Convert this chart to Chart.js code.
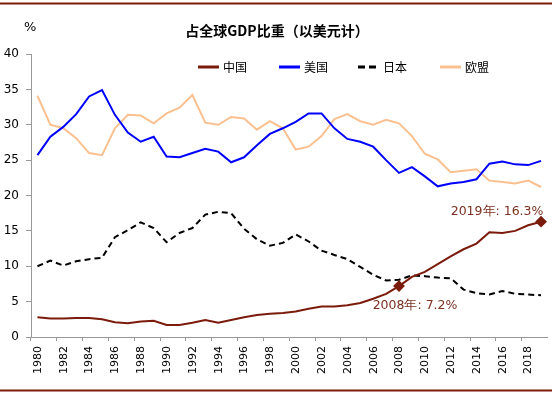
<!DOCTYPE html>
<html>
<head>
<meta charset="utf-8">
<script src="https://cdn.jsdelivr.net/npm/chart.js@4/dist/chart.umd.min.js"></script>
<style>
  html, body { margin: 0; padding: 0; background: #fff; }
  canvas { display: block; }
</style>
</head>
<body>
<canvas id="gdpChart" width="554" height="394"></canvas>
<script>
// Share of world GDP (USD), %
const years = [];
for (let y = 1980; y <= 2019; y++) years.push(String(y));

const china = [2.8, 2.6, 2.6, 2.7, 2.7, 2.5, 2.1, 1.95, 2.2, 2.3,
               1.7, 1.7, 2.0, 2.4, 2.0, 2.4, 2.8, 3.1, 3.3, 3.4,
               3.6, 4.0, 4.3, 4.3, 4.5, 4.8, 5.4, 6.1, 7.2, 8.5,
               9.2, 10.3, 11.4, 12.4, 13.2, 14.8, 14.7, 15.0, 15.8, 16.3];
const usa = [25.7, 28.3, 29.7, 31.5, 34.0, 34.9, 31.4, 28.9, 27.6, 28.3,
             25.5, 25.4, 26.0, 26.6, 26.2, 24.7, 25.4, 27.1, 28.7, 29.5,
             30.4, 31.6, 31.6, 29.5, 28.0, 27.6, 26.9, 25.0, 23.2, 24.0,
             22.7, 21.3, 21.7, 21.9, 22.3, 24.5, 24.8, 24.4, 24.3, 24.9];
const japan = [10.0, 10.8, 10.1, 10.7, 11.0, 11.2, 14.1, 15.1, 16.2, 15.4,
               13.4, 14.7, 15.4, 17.3, 17.7, 17.5, 15.3, 13.8, 12.9, 13.3,
               14.5, 13.5, 12.2, 11.6, 11.0, 9.9, 8.8, 8.0, 8.1, 8.7,
               8.6, 8.4, 8.3, 6.7, 6.2, 6.0, 6.5, 6.1, 6.0, 5.9];
const eu = [34.1, 30.0, 29.5, 28.1, 26.0, 25.7, 29.5, 31.4, 31.3, 30.2,
            31.6, 32.4, 34.2, 30.3, 30.0, 31.1, 30.9, 29.3, 30.5, 29.5,
            26.5, 26.9, 28.4, 30.8, 31.5, 30.5, 30.0, 30.7, 30.2, 28.4,
            25.9, 25.1, 23.3, 23.5, 23.7, 22.1, 21.9, 21.7, 22.1, 21.2];

const yTicks = [0, 5, 10, 15, 20, 25, 30, 35, 40];
const markedIdx = [28, 39];   // 2008, 2019
const markedText = ['2008年: 7.2%', '2019年: 16.3%'];

const RED = '#7B1B0C';
const TEXT_RED = '#7B3020';

// title, borders, legend, vertical year labels and callouts
const decor = {
  id: 'decor',
  beforeDraw(chart) {
    const c = chart.ctx;
    c.save();
    c.fillStyle = '#fff';
    c.fillRect(0, 0, chart.width, chart.height);
    c.restore();
  },
  afterDraw(chart) {
    const c = chart.ctx;
    c.save();
    // frame lines
    c.strokeStyle = RED;
    c.lineWidth = 2;
    c.beginPath();
    c.moveTo(0, 3.5); c.lineTo(552, 3.5);
    c.moveTo(0, 390.5); c.lineTo(552, 390.5);
    c.stroke();

    c.fillStyle = '#000';
    c.textBaseline = 'middle';
    c.font = 'bold 14px "Noto Sans CJK SC"';
    c.textAlign = 'center';
    c.fillText('占全球GDP比重（以美元计）', 277, 31);
    c.font = '13px "DejaVu Sans"';
    c.textAlign = 'left';
    c.fillText('%', 24, 28);

    // year labels, every other category, rotated
    const xs = chart.scales.x;
    c.font = '11px "DejaVu Sans"';
    c.textAlign = 'right';
    years.forEach((lab, i) => {
      if (i % 2) return;
      c.save();
      c.translate(xs.getPixelForValue(i) + 0.5, xs.top + 9);
      c.rotate(-Math.PI / 2);
      c.fillText(lab, 0, 0);
      c.restore();
    });

    // legend
    const legX = [198, 279, 358, 440];
    c.font = '12px "Noto Sans CJK SC"';
    c.textAlign = 'left';
    chart.data.datasets.forEach((ds, i) => {
      const x = legX[i], y = 67;
      c.strokeStyle = ds.borderColor;
      c.lineWidth = 3;
      c.setLineDash(ds.borderDash ? [7, 4] : []);
      c.beginPath();
      c.moveTo(x, y); c.lineTo(x + 21, y);
      c.stroke();
      c.setLineDash([]);
      c.fillStyle = '#000';
      c.fillText(ds.label, x + 25, y);
    });

    // callouts for 2008 / 2019
    const pts = chart.getDatasetMeta(0).data;
    const off = [[16, 20], [-44, -10]];
    c.fillStyle = TEXT_RED;
    c.textAlign = 'center';
    c.font = '12.5px "DejaVu Sans"';
    markedIdx.forEach((idx, k) => {
      const p = pts[idx];
      c.fillText(markedText[k], p.x + off[k][0], p.y + off[k][1]);
    });
    c.restore();
  }
};

new Chart(document.getElementById('gdpChart'), {
  type: 'line',
  data: {
    labels: years,
    datasets: [
      {
        label: '中国', data: china, borderColor: RED, backgroundColor: RED, borderWidth: 2,
        pointStyle: 'rectRot',
        pointRadius: ctx => markedIdx.includes(ctx.dataIndex) ? 4.5 : 0,
        pointBackgroundColor: RED, pointBorderColor: RED
      },
      { label: '美国', data: usa, borderColor: '#0000FF', borderWidth: 2, pointRadius: 0 },
      { label: '日本', data: japan, borderColor: '#000000', borderWidth: 2, borderDash: [6, 4], pointRadius: 0 },
      { label: '欧盟', data: eu, borderColor: '#FAC090', borderWidth: 2, pointRadius: 0 }
    ]
  },
  options: {
    responsive: false,
    devicePixelRatio: 1,
    animation: false,
    layout: { padding: { top: 54, right: 3, left: 0, bottom: 0 } },
    plugins: { legend: { display: false }, title: { display: false }, tooltip: { enabled: false } },
    scales: {
      x: {
        type: 'category',
        offset: true,
        afterFit: s => { s.height = 57; s.paddingLeft = 0; s.paddingRight = 0; },
        grid: {
          offset: true, drawOnChartArea: false, tickLength: 4,
          color: ctx => ctx.index % 2 === 0 ? '#999' : 'rgba(0,0,0,0)'
        },
        border: { color: '#999' },
        ticks: { display: false, autoSkip: false }
      },
      y: {
        min: 0, max: 40,
        afterFit: s => { s.width = 31; },
        afterBuildTicks: s => { s.ticks = yTicks.map(v => ({ value: v })); },
        grid: { drawOnChartArea: false, tickLength: 5, color: '#999' },
        border: { color: '#999' },
        ticks: { padding: 7, color: '#000', font: { family: 'DejaVu Sans', size: 12 } }
      }
    }
  },
  plugins: [decor]
});
</script>
</body>
</html>
